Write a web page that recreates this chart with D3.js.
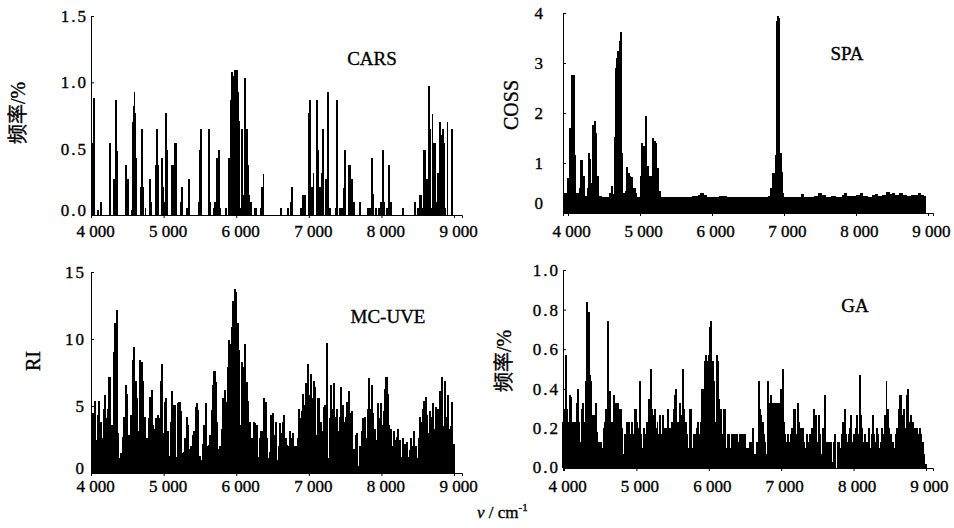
<!DOCTYPE html>
<html>
<head>
<meta charset="utf-8">
<script src="https://cdn.jsdelivr.net/npm/d3@7"></script>
<style>
  body { margin: 0; background: #fff; }
  svg text { font-family: "Liberation Serif", "Times New Roman", "Noto Sans CJK SC", serif; fill: #000; stroke: #000; stroke-width: 0.35px; }
  .bars rect { shape-rendering: crispEdges; }
</style>
</head>
<body>
<div id="chart"></div>
<script>
// x ticks shared by all four panels
const xTicks = [4000, 5000, 6000, 7000, 8000, 9000];
const xTickLabels = ['4 000', '5 000', '6 000', '7 000', '8 000', '9 000'];

// CARS: selection frequency of single variables (sparse)
const carsWave = [4020, 4045, 4100, 4133, 4260, 4320, 4343, 4356, 4480, 4511,
  4557, 4571, 4585, 4599, 4612, 4628, 4685, 4703, 4721, 4749,
  4808, 4830, 4890, 4905, 4913, 4930, 4977, 4990, 5008, 5036,
  5050, 5114, 5130, 5155, 5175, 5233, 5251, 5320, 5342, 5356,
  5480, 5502, 5516, 5621, 5640, 5690, 5708, 5731, 5744, 5763,
  5781, 5859, 5904, 5927, 5940, 5959, 5972, 5986, 6009, 6027,
  6045, 6060, 6082, 6100, 6118, 6136, 6150, 6168, 6182, 6200,
  6254, 6277, 6338, 6356, 6374, 6612, 6717, 6750, 6772, 6888,
  6915, 6933, 6951, 6993, 7016, 7039, 7062, 7108, 7130, 7153,
  7176, 7190, 7236, 7268, 7291, 7374, 7383, 7429, 7452, 7484,
  7498, 7553, 7571, 7590, 7622, 7704, 7819, 7842, 7874, 7888,
  7925, 7970, 7989, 8017, 8039, 8072, 8090, 8104, 8127, 8292,
  8462, 8508, 8530, 8544, 8576, 8590, 8608, 8631, 8645, 8654,
  8668, 8691, 8705, 8723, 8737, 8760, 8783, 8806, 8829, 8843,
  8865, 8874, 8911, 8975];
const carsFreq = [0.54, 0.88, 0.04, 0.10, 0.54, 0.27, 0.87, 0.48, 0.38, 0.27,
  0.04, 0.70, 0.82, 0.93, 0.77, 0.43, 0.21, 0.65, 0.21, 0.05,
  0.27, 0.10, 0.38, 0.38, 0.65, 0.38, 0.43, 0.21, 0.10, 0.77,
  0.49, 0.38, 0.38, 0.54, 0.54, 0.10, 0.21, 0.05, 0.27, 0.27,
  0.10, 0.49, 0.65, 0.65, 0.10, 0.05, 0.10, 0.43, 0.43, 0.49,
  0.05, 0.05, 0.43, 0.87, 1.08, 1.05, 0.98, 1.09, 1.09, 0.93,
  0.71, 0.05, 0.65, 0.15, 1.03, 0.43, 0.65, 0.38, 0.15, 0.10,
  0.05, 0.05, 0.05, 0.21, 0.31, 0.05, 0.05, 0.10, 0.21, 0.05,
  0.15, 0.15, 0.15, 0.77, 0.87, 0.21, 0.32, 0.87, 0.49, 0.21,
  0.32, 0.65, 0.27, 0.93, 0.05, 0.05, 0.87, 0.05, 0.05, 0.20,
  0.49, 0.38, 0.38, 0.27, 0.10, 0.10, 0.05, 0.05, 0.43, 0.16,
  0.05, 0.05, 0.10, 0.49, 0.10, 0.05, 0.05, 0.38, 0.10, 0.05,
  0.10, 0.05, 0.15, 0.15, 0.05, 0.49, 0.49, 0.27, 0.05, 0.97,
  0.65, 0.05, 0.76, 0.54, 0.54, 0.10, 0.32, 0.70, 0.60, 0.65,
  0.54, 0.05, 0.70, 0.65];

// SPA: COSS, each value holds until the next wavenumber
const spaWave = [3935, 3982, 4005, 4019, 4037, 4083, 4097, 4144, 4158, 4167,
  4204, 4222, 4259, 4283, 4296, 4315, 4333, 4361, 4380, 4398,
  4421, 4470, 4520, 4574, 4597, 4616, 4644, 4658, 4667, 4685,
  4704, 4722, 4736, 4750, 4792, 4806, 4829, 4852, 4871, 4889,
  4908, 4931, 4954, 5000, 5014, 5037, 5056, 5074, 5093, 5111,
  5130, 5162, 5185, 5209, 5232, 5255, 5278, 5350, 5420, 5500,
  5580, 5650, 5720, 5800, 5840, 5880, 5920, 6000, 6100, 6200,
  6300, 6400, 6500, 6600, 6700, 6780, 6806, 6833, 6870, 6893,
  6907, 6926, 6940, 6958, 6980, 6995, 7080, 7160, 7230, 7270,
  7350, 7420, 7470, 7520, 7580, 7650, 7720, 7800, 7830, 7870,
  7940, 8000, 8050, 8090, 8160, 8220, 8260, 8300, 8360, 8420,
  8460, 8500, 8540, 8600, 8640, 8700, 8760, 8820, 8860, 8900,
  8940];
const spaCoss = [0.40, 0.70, 0.65, 1.70, 2.76, 1.16, 0.40, 0.33, 0.50, 1.06,
  0.75, 0.35, 0.50, 1.20, 1.08, 0.60, 1.76, 1.85, 1.60, 0.75,
  0.35, 0.33, 0.32, 0.40, 0.55, 0.38, 1.53, 2.90, 3.10, 3.25,
  3.45, 3.63, 1.20, 0.40, 0.45, 0.93, 0.80, 0.75, 0.72, 0.45,
  0.50, 0.40, 0.33, 0.75, 1.40, 1.35, 0.75, 1.95, 0.95, 0.75,
  0.75, 1.50, 1.45, 1.40, 0.90, 0.45, 0.33, 0.32, 0.33, 0.32,
  0.33, 0.32, 0.34, 0.36, 0.40, 0.37, 0.33, 0.33, 0.34, 0.32,
  0.33, 0.32, 0.33, 0.32, 0.33, 0.34, 0.50, 0.80, 1.16, 3.85,
  3.94, 3.90, 1.20, 0.83, 0.40, 0.33, 0.32, 0.33, 0.38, 0.33,
  0.33, 0.35, 0.40, 0.36, 0.33, 0.34, 0.33, 0.36, 0.40, 0.35,
  0.34, 0.36, 0.40, 0.35, 0.33, 0.36, 0.39, 0.34, 0.37, 0.43,
  0.38, 0.40, 0.36, 0.40, 0.37, 0.35, 0.37, 0.36, 0.40, 0.36,
  0.34];
const spaEnd = 8960;

// MC-UVE: reliability index, evenly spaced from 4010 to 8990 cm-1
const mcuveRange = [4010, 8990];
const mcuveRI = [3.5, 4.5, 5.4, 2.5, 4.3, 5.4, 3.8, 2.6, 4.8, 5.8,
  4.1, 4.8, 7.2, 3.6, 3.6, 9.0, 11.2, 12.2, 3.0, 1.1,
  1.5, 2.7, 4.2, 6.6, 5.9, 2.8, 2.0, 4.3, 8.4, 9.4,
  6.9, 5.6, 3.1, 8.4, 8.3, 6.9, 4.2, 2.2, 2.6, 4.1,
  5.7, 6.2, 3.6, 3.3, 4.1, 4.3, 4.1, 6.9, 8.1, 3.0,
  5.3, 5.6, 3.1, 1.3, 3.8, 6.1, 5.1, 5.1, 1.2, 5.2,
  5.3, 4.6, 1.5, 1.6, 2.6, 4.2, 3.6, 1.8, 2.0, 2.8,
  3.1, 4.9, 5.2, 4.7, 1.3, 1.0, 2.2, 3.6, 5.2, 2.0,
  2.1, 2.8, 4.7, 6.6, 7.6, 6.8, 3.8, 1.8, 2.0, 3.3,
  5.6, 6.2, 5.3, 7.9, 9.9, 9.6, 10.9, 12.8, 13.7, 13.5,
  11.2, 9.2, 3.6, 8.3, 7.9, 9.6, 6.8, 5.4, 3.8, 1.5,
  2.6, 3.8, 3.7, 3.6, 1.2, 2.6, 3.1, 3.1, 5.6, 5.3,
  2.6, 1.1, 1.6, 4.3, 4.5,
  2.8, 3.8, 1.0, 2.0, 3.7, 3.0, 3.8, 4.3, 2.6, 2.1,
  2.0, 3.1, 2.6, 3.0, 2.0, 2.0, 2.6, 4.8, 4.1, 4.6,
  5.9, 5.1, 6.7, 8.1, 5.8, 7.4, 5.6, 6.9, 6.4, 2.8,
  5.6, 5.6, 3.8, 3.1, 4.9, 5.1, 9.7, 1.1, 4.1, 6.6,
  4.8, 6.7, 4.2, 4.8, 3.1, 4.2, 6.4, 5.1, 3.8, 4.2,
  5.3, 6.1, 4.5, 4.6, 1.2, 1.8, 2.8, 3.0, 0.5, 2.0,
  3.1, 4.1, 4.2, 2.6, 4.8, 7.1, 4.8, 6.6, 4.5, 3.3,
  2.5, 5.2, 4.1, 5.2, 3.6, 4.6, 6.3, 7.2, 5.9, 3.6,
  3.3, 2.0, 3.1, 2.5, 2.7, 3.3, 2.5, 1.2, 2.6, 0.8,
  2.2, 2.3, 1.2, 1.7, 2.6, 2.0, 3.1, 2.0, 1.1, 2.6,
  4.2, 3.8, 4.8, 5.4, 5.7, 4.3, 3.0, 4.6, 4.2, 5.2,
  3.3, 4.9, 4.8, 3.6, 6.1, 7.2, 3.5, 6.9, 4.2, 5.8,
  3.3, 3.5, 5.3, 2.2];

// GA: selection frequency, evenly spaced from 3985 to 8990 cm-1
const gaRange = [3985, 8990];
const gaFreq = [0.23, 0.30, 0.57, 0.30, 0.23, 0.37, 0.36, 0.23, 0.13, 0.23,
  0.33, 0.40, 0.23, 0.13, 0.30, 0.33, 0.23, 0.44, 0.84, 0.79,
  0.47, 0.44, 0.27, 0.27, 0.33, 0.18, 0.13, 0.13, 0.13, 0.10,
  0.20, 0.23, 0.30, 0.74, 0.35, 0.39, 0.23, 0.23, 0.37, 0.33,
  0.23, 0.33, 0.30, 0.30, 0.20, 0.07, 0.17, 0.23, 0.20, 0.23,
  0.17, 0.23, 0.17, 0.30, 0.30, 0.23, 0.20, 0.44, 0.17, 0.10,
  0.20, 0.17, 0.23, 0.23, 0.35, 0.50, 0.30, 0.27, 0.30, 0.20,
  0.23, 0.17, 0.27, 0.17, 0.27, 0.20, 0.20, 0.17, 0.30, 0.20,
  0.17, 0.23, 0.30, 0.37, 0.40, 0.23, 0.17, 0.33, 0.27, 0.50,
  0.30, 0.23, 0.17, 0.10, 0.30, 0.30, 0.10, 0.17, 0.17, 0.20,
  0.23, 0.17, 0.23, 0.40, 0.40, 0.54, 0.57, 0.54, 0.57, 0.71,
  0.74, 0.54, 0.44, 0.23, 0.57, 0.54, 0.35, 0.30, 0.17, 0.30,
  0.30, 0.10, 0.17, 0.17, 0.10, 0.17, 0.10, 0.17, 0.17, 0.17,
  0.13, 0.17, 0.05, 0.17, 0.17, 0.17,
  0.10, 0.10, 0.10, 0.13, 0.13, 0.20, 0.07, 0.07, 0.13, 0.44,
  0.30, 0.27, 0.23, 0.17, 0.13, 0.07, 0.44, 0.33, 0.37, 0.27,
  0.33, 0.33, 0.20, 0.33, 0.33, 0.27, 0.40, 0.50, 0.23, 0.17,
  0.13, 0.17, 0.13, 0.17, 0.20, 0.30, 0.30, 0.17, 0.33, 0.23,
  0.20, 0.20, 0.20, 0.13, 0.10, 0.17, 0.13, 0.17, 0.17, 0.20,
  0.30, 0.27, 0.27, 0.13, 0.27, 0.17, 0.07, 0.20, 0.37, 0.13,
  0.13, 0.13, 0.00, 0.13, 0.03, 0.13, 0.17, 0.00, 0.13, 0.13,
  0.10, 0.17, 0.23, 0.30, 0.17, 0.13, 0.17, 0.20, 0.27, 0.13,
  0.17, 0.20, 0.27, 0.17, 0.47, 0.27, 0.20, 0.13, 0.17, 0.13,
  0.13, 0.20, 0.10, 0.17, 0.27, 0.17, 0.13, 0.20, 0.17, 0.10,
  0.13, 0.20, 0.17, 0.27, 0.44, 0.30, 0.20, 0.17, 0.13, 0.13,
  0.10, 0.17, 0.20, 0.30, 0.37, 0.37, 0.27, 0.30, 0.20, 0.37,
  0.40, 0.23, 0.27, 0.20, 0.23, 0.20, 0.17, 0.20, 0.17, 0.20,
  0.17, 0.13, 0.07, 0.02];

const svg = d3.select('#chart').append('svg')
    .attr('width', 954)
    .attr('height', 528);

// bars drawn at given wavenumbers, fixed width
function spikes(g, x, y, wave, vals) {
  g.selectAll('rect')
    .data(vals)
    .join('rect')
      .attr('x', (d, i) => x(wave[i]) - 0.8)
      .attr('width', 1.7)
      .attr('y', d => y(d))
      .attr('height', d => y(0) - y(d));
}

// each value lasts until the next wavenumber
function steps(g, x, y, wave, vals, end) {
  g.selectAll('rect')
    .data(vals)
    .join('rect')
      .attr('x', (d, i) => x(wave[i]))
      .attr('width', (d, i) => x(i + 1 < wave.length ? wave[i + 1] : end) - x(wave[i]) + 0.6)
      .attr('y', d => y(d))
      .attr('height', d => y(0) - y(d));
}

// evenly spaced spectrum between two wavenumbers
function spectrum(g, x, y, range, vals) {
  const w = d3.scaleLinear().domain([0, vals.length - 1]).range(range);
  const bw = x(w(1)) - x(w(0));
  g.selectAll('rect')
    .data(vals)
    .join('rect')
      .attr('x', (d, i) => x(w(i)) - bw / 2)
      .attr('width', bw + 0.6)
      .attr('y', d => y(d))
      .attr('height', d => y(0) - y(d));
}

const panels = [
  { title: 'CARS', tx: 372, ty: 65, ylab: '频率/%', lx: 18, ly: 113,
    xDom: [4000, 9110], xRange: [91, 462], yDom: [0, 1.5], yRange: [215, 16],
    yTicks: [0, 0.5, 1.0, 1.5], yLabels: ['0.0', '0.5', '1.0', '1.5'],
    pad: 5, zeroShift: -6, xLabY: 22, xLabDx: 4,
    draw: (g, x, y) => spikes(g, x, y, carsWave, carsFreq) },
  { title: 'SPA', tx: 847, ty: 60, ylab: 'COSS', lx: 511, ly: 105,
    xDom: [3930, 9070], xRange: [563, 933], yDom: [0, 4], yRange: [213, 13],
    yTicks: [0, 1, 2, 3, 4], yLabels: ['0', '1', '2', '3', '4'],
    pad: 20, zeroShift: -11, xLabY: 24, xLabDx: 3,
    draw: (g, x, y) => steps(g, x, y, spaWave, spaCoss, spaEnd) },
  { title: 'MC-UVE', tx: 388, ty: 323, ylab: 'RI', lx: 33, ly: 361,
    xDom: [4000, 9110], xRange: [91, 462], yDom: [0, 15], yRange: [473, 272],
    yTicks: [0, 5, 10, 15], yLabels: ['0', '5', '10', '15'],
    pad: 7, zeroShift: -6, xLabY: 19, xLabDx: 4,
    draw: (g, x, y) => spectrum(g, x, y, mcuveRange, mcuveRI) },
  { title: 'GA', tx: 855, ty: 312, ylab: '频率/%', lx: 504, ly: 361,
    xDom: [3986, 9097], xRange: [563, 933], yDom: [0, 1], yRange: [468, 270],
    yTicks: [0, 0.2, 0.4, 0.6, 0.8, 1.0], yLabels: ['0.0', '0.2', '0.4', '0.6', '0.8', '1.0'],
    pad: 5, zeroShift: -2, xLabY: 24, xLabDx: 3,
    draw: (g, x, y) => spectrum(g, x, y, gaRange, gaFreq) }
];

panels.forEach(p => {
  const x = d3.scaleLinear().domain(p.xDom).range(p.xRange);
  const y = d3.scaleLinear().domain(p.yDom).range(p.yRange);
  const g = svg.append('g');

  p.draw(g.append('g').attr('class', 'bars').attr('fill', '#000'), x, y);

  // x axis
  const xa = g.append('g')
      .attr('transform', `translate(0,${y(0)})`)
      .call(d3.axisBottom(x).tickValues(xTicks)
        .tickFormat((d, i) => xTickLabels[i]).tickSize(3).tickSizeOuter(3));
  xa.attr('font-family', null).attr('font-size', null);
  xa.selectAll('text')
      .attr('y', p.xLabY)
      .attr('dy', null)
      .attr('dx', p.xLabDx)
      .style('font-size', '17px');

  // y axis, ticks point inward
  const ya = g.append('g')
      .attr('transform', `translate(${p.xRange[0]},0)`)
      .call(d3.axisLeft(y).tickValues(p.yTicks)
        .tickFormat((d, i) => p.yLabels[i]).tickSizeInner(-3).tickSizeOuter(0).tickPadding(p.pad));
  ya.attr('font-family', null).attr('font-size', null);
  ya.selectAll('text')
      .style('font-size', '17px')
      .style('letter-spacing', '2px')
      .attr('dx', 2);
  ya.select('.tick text').attr('dy', null).attr('y', p.zeroShift + 6);

  // panel name
  g.append('text')
      .attr('x', p.tx)
      .attr('y', p.ty)
      .attr('text-anchor', 'middle')
      .style('font-size', '19px')
      .text(p.title);

  // y label
  g.append('text')
      .attr('transform', `translate(${p.lx},${p.ly}) rotate(-90)`)
      .attr('text-anchor', 'middle')
      .attr('dy', '0.35em')
      .style('font-size', '20px')
      .text(p.ylab);
});

// shared x label
const xt = svg.append('text')
    .attr('x', 477)
    .attr('y', 518)
    .style('font-size', '17px');
xt.append('tspan').style('font-style', 'italic').text('ν');
xt.append('tspan').text(' / cm');
xt.append('tspan').attr('dy', -7).style('font-size', '11px').text('-1');
</script>
</body>
</html>
